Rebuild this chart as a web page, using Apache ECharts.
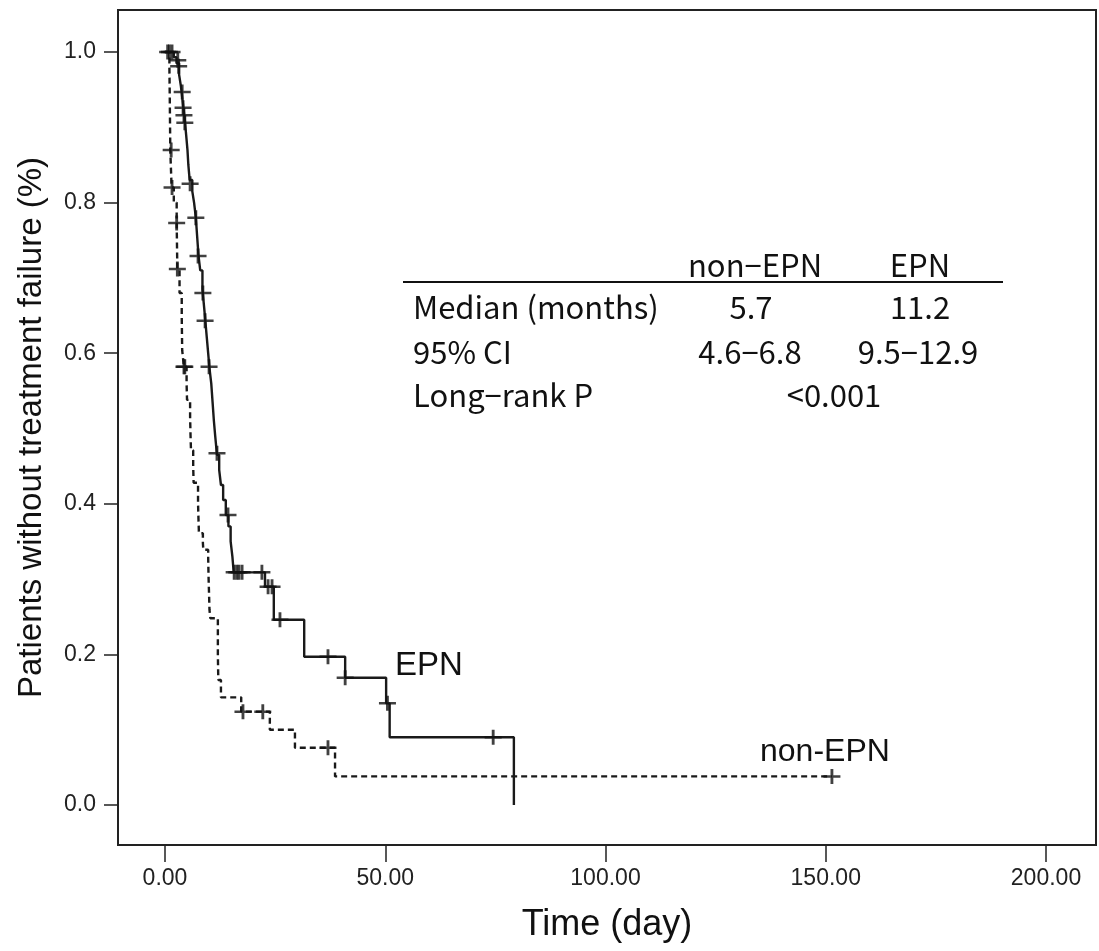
<!DOCTYPE html>
<html>
<head>
<meta charset="utf-8">
<script src="https://cdn.jsdelivr.net/npm/echarts@6/dist/echarts.min.js"></script>
<style>html,body{margin:0;padding:0;background:#fff}#c{width:1099px;height:951px}</style>
</head>
<body>
<div id="c"></div>
<script>
// Kaplan-Meier step data (time in days, survival proportion)
const epnTime = [0, 2.0, 2.6, 3.2, 3.6, 3.9, 4.2, 4.5, 4.8, 5.1, 5.3, 5.6, 6.2, 6.6, 7.0, 7.3, 7.6, 8.0, 8.5, 8.9, 9.2, 9.5, 9.8, 10.1, 10.5, 10.8, 11.1, 11.4, 11.8, 12.3, 12.7, 13.2, 13.8, 14.4, 14.9, 15.3, 15.6, 22.7, 24.7, 31.6, 40.9, 50.2, 51.0, 79.2];
const epnSurv = [1, 0.993, 0.985, 0.97, 0.955, 0.94, 0.925, 0.91, 0.89, 0.87, 0.85, 0.83, 0.815, 0.80, 0.78, 0.755, 0.73, 0.71, 0.685, 0.66, 0.64, 0.62, 0.60, 0.58, 0.56, 0.535, 0.51, 0.49, 0.465, 0.445, 0.425, 0.405, 0.385, 0.37, 0.35, 0.33, 0.309, 0.29, 0.246, 0.197, 0.169, 0.135, 0.09, 0];
const epnCensorT = [1.0, 1.6, 2.9, 3.1, 3.9, 4.1, 4.3, 4.5, 5.7, 7.0, 7.5, 8.6, 9.1, 10.0, 11.8, 14.3, 15.7, 16.3, 16.8, 17.5, 22.0, 23.4, 24.3, 26.1, 37.0, 40.9, 50.5, 74.5];
const epnCensorS = [1.0, 1.0, 0.989, 0.981, 0.947, 0.926, 0.916, 0.906, 0.825, 0.78, 0.729, 0.68, 0.643, 0.582, 0.467, 0.385, 0.309, 0.309, 0.309, 0.309, 0.309, 0.29, 0.29, 0.246, 0.197, 0.169, 0.135, 0.09];

const nonTime = [0, 1.0, 1.1, 1.2, 1.5, 2.0, 2.65, 2.8, 3.3, 3.8, 3.9, 4.3, 4.9, 5.0, 5.7, 5.8, 5.9, 6.4, 6.5, 7.5, 7.6, 7.7, 8.6, 8.7, 9.8, 9.9, 10.0, 10.1, 10.3, 12.0, 12.1, 12.7, 17.3, 23.8, 29.5, 38.6, 151.4];
const nonSurv = [1, 0.98, 0.93, 0.87, 0.82, 0.80, 0.773, 0.712, 0.68, 0.648, 0.604, 0.582, 0.56, 0.538, 0.515, 0.49, 0.471, 0.449, 0.428, 0.401, 0.38, 0.361, 0.348, 0.339, 0.329, 0.30, 0.28, 0.259, 0.248, 0.20, 0.166, 0.143, 0.124, 0.10, 0.076, 0.038, 0.038];
const nonCensorT = [0.6, 1.4, 1.6, 2.65, 2.8, 4.3, 4.5, 17.7, 22.2, 37.0, 151.4];
const nonCensorS = [1.0, 0.87, 0.82, 0.773, 0.712, 0.582, 0.582, 0.124, 0.124, 0.076, 0.038];

const xTicks = [0, 50, 100, 150, 200];
const yTicks = [0, 0.2, 0.4, 0.6, 0.8, 1.0];

const zip = (a, b) => a.map((v, i) => [v, b[i]]);
const plus = 'path://M5,0h2v5h5v2h-5v5h-2v-5h-5v-2h5z';
const ink = '#1a1a1a';
const sans = "'Liberation Sans',Arial,sans-serif";
const jp = "'Noto Sans CJK JP','Noto Sans',sans-serif";

const chart = echarts.init(document.getElementById('c'), null, {renderer: 'canvas'});
const tableFont = {fontFamily: jp, fontSize: 31, fill: '#111'};
function txt(text, x, y, align, extra) {
  return {type: 'text', x: x, y: y, style: Object.assign({text: text, textAlign: align, textVerticalAlign: 'middle'}, tableFont, extra || {})};
}
chart.setOption({
  animation: false,
  backgroundColor: '#fff',
  grid: {left: 118, right: 3, top: 10, bottom: 106, show: true, borderColor: '#222', borderWidth: 2, backgroundColor: 'transparent'},
  xAxis: {
    type: 'value', min: -10.67, max: 211.35,
    name: 'Time (day)', nameLocation: 'middle', nameGap: 62,
    nameTextStyle: {fontFamily: sans, fontSize: 36, color: '#111'},
    axisLine: {show: false, onZero: false},
    splitLine: {show: false},
    axisTick: {show: true, customValues: xTicks, length: 17, lineStyle: {color: '#222', width: 1.5}},
    axisLabel: {customValues: xTicks, formatter: v => v.toFixed(2), margin: 22, fontFamily: sans, fontSize: 23, color: '#222'}
  },
  yAxis: {
    type: 'value', min: -0.0531, max: 1.0558,
    name: 'Patients without treatment failure (%)', nameLocation: 'middle', nameGap: 70,
    nameTextStyle: {fontFamily: sans, fontSize: 33, color: '#111'},
    axisLine: {show: false, onZero: false},
    splitLine: {show: false},
    axisTick: {show: true, customValues: yTicks, length: 14, lineStyle: {color: '#222', width: 1.5}},
    axisLabel: {customValues: yTicks, formatter: v => v.toFixed(1), margin: 22, fontFamily: sans, fontSize: 23, color: '#222'}
  },
  series: [
    {name: 'non-EPN', type: 'line', step: 'end', data: zip(nonTime, nonSurv), showSymbol: false, symbol: 'none',
     lineStyle: {color: ink, width: 2.4, type: [6, 4]}, z: 3},
    {name: 'EPN', type: 'line', step: 'end', data: zip(epnTime, epnSurv), showSymbol: false, symbol: 'none',
     lineStyle: {color: ink, width: 2.4}, z: 3},
    {name: 'EPN censored', type: 'scatter', data: zip(epnCensorT, epnCensorS), symbol: plus, symbolSize: [17, 15],
     itemStyle: {color: '#111'}, z: 4},
    {name: 'non-EPN censored', type: 'scatter', data: zip(nonCensorT, nonCensorS), symbol: plus, symbolSize: [17, 15],
     itemStyle: {color: '#111'}, z: 4}
  ],
  graphic: [
    txt('non−EPN', 755, 265, 'center'),
    txt('EPN', 920, 265, 'center'),
    {type: 'line', shape: {x1: 403, y1: 282, x2: 1003, y2: 282}, style: {stroke: '#111', lineWidth: 2}},
    txt('Median (months)', 413, 307, 'left'),
    txt('5.7', 751, 307, 'center'),
    txt('11.2', 920, 307, 'center'),
    txt('95% CI', 413, 352, 'left'),
    txt('4.6−6.8', 750, 352, 'center'),
    txt('9.5−12.9', 918, 352, 'center'),
    txt('Long−rank P', 413, 395, 'left'),
    txt('<0.001', 834, 395, 'center'),
    txt('EPN', 395, 666, 'left', {fontFamily: sans, fontSize: 33}),
    txt('non-EPN', 760, 752, 'left', {fontFamily: sans, fontSize: 32})
  ]
});
</script>
</body>
</html>
